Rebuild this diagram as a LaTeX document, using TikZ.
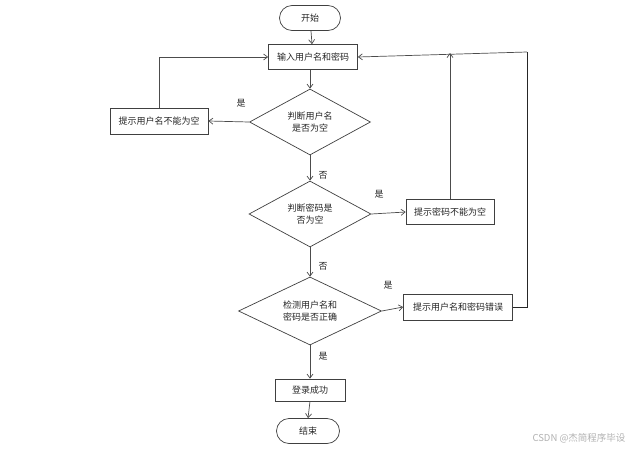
\documentclass[tikz,border=0pt]{standalone}
\usepackage{fontspec}
\setmainfont{Noto Sans CJK SC}
\usetikzlibrary{shapes.geometric,shapes.misc,arrows.meta}
\begin{document}
\begin{tikzpicture}[x=1pt,y=-1pt,
  every node/.style={font=\fontsize{9}{11.5}\selectfont, text=black!85},
  box/.style={draw=black!75, line width=0.7pt, rectangle, inner sep=0pt},
  term/.style={draw=black!75, line width=0.7pt, rounded rectangle, inner sep=0pt},
  dec/.style={draw=black!75, line width=0.7pt, diamond, aspect=1.8, inner sep=0pt, align=center},
  lbl/.style={inner sep=0pt},
  conn/.style={draw=black!70, line width=0.7pt, -{Straight Barb[length=4pt,width=6pt]}},
  plain/.style={draw=black!70, line width=0.7pt}
]
\useasboundingbox (0,0) rectangle (643,450);
\fill[white] (0,0) rectangle (643,450);

\node[term, minimum width=61pt, minimum height=25pt] (start) at (310,18) {开始};
\node[box, minimum width=89pt, minimum height=25pt] (input) at (313,57) {输入用户名和密码};
\node[dec, minimum width=121pt, minimum height=66pt] (d1) at (310,122) {判断用户名\\是否为空};
\node[box, minimum width=98pt, minimum height=26pt] (e1) at (159,121) {提示用户名不能为空};
\node[dec, minimum width=122pt, minimum height=66pt] (d2) at (310,214) {判断密码是\\否为空};
\node[box, minimum width=88pt, minimum height=25pt] (e2) at (450,212) {提示密码不能为空};
\node[dec, minimum width=143pt, minimum height=68pt] (d3) at (310,311) {检测用户名和\\密码是否正确};
\node[box, minimum width=109pt, minimum height=26pt] (e3) at (458,307) {提示用户名和密码错误};
\node[box, minimum width=70pt, minimum height=22pt] (ok) at (310,390) {登录成功};
\node[term, minimum width=63pt, minimum height=25pt] (end) at (308,431) {结束};

\node[lbl] (l1) at (241,103) {是};
\node[lbl] (l2) at (323,175) {否};
\node[lbl] (l3) at (379,194) {是};
\node[lbl] (l4) at (323,266) {否};
\node[lbl] (l5) at (388,285) {是};
\node[lbl] (l6) at (323,356) {是};

\coordinate (rt) at (527,52);
\coordinate (rb) at (527,307);
\coordinate (j2) at (450,53);

\draw[conn] (start) -- (input);
\draw[conn] (input.south -| d1.north) -- (d1.north);
\draw[conn] (d1.west) -- (e1.east);
\draw[conn] (e1.north) |- (input.west);
\draw[conn] (d1.south) -- (d2.north);
\draw[conn] (d2.east) -- (e2.west);
\draw[conn] (e2.north) -- (j2);
\draw[conn] (d2.south) -- (d3.north);
\draw[conn] (d3.east) -- (e3.west);
\draw[plain, draw=black!85] (e3.east) -- (rb) -- (rt);
\draw[conn] (rt) -- (input.east);
\draw[conn] (d3.south) -- (ok.north);
\draw[conn] (ok.south) -- (end.north);

\node[lbl, text=black!30, font=\fontsize{9.5}{11}\selectfont] (wm) at (579,438) {CSDN @杰简程序毕设};
\end{tikzpicture}
\end{document}
